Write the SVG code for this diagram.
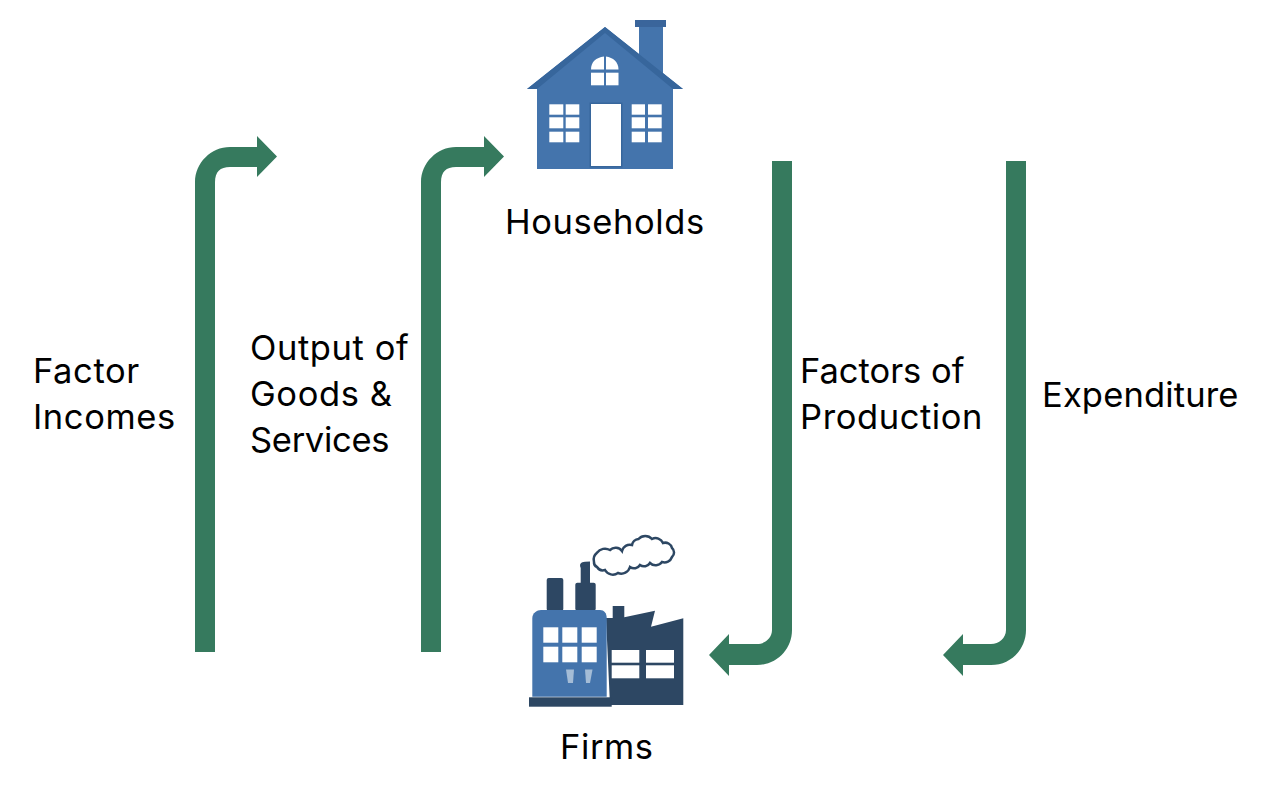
<svg xmlns="http://www.w3.org/2000/svg" width="1264" height="794" viewBox="0 0 1264 794">
<style>
.lbl{font-family:"Inter","Open Sans","Liberation Sans",sans-serif;font-size:34.500px;letter-spacing:.6px;fill:#000}
.arrow{fill:#367a5e}
.blue{fill:#4474ac}
.navy{fill:#2d4763}
.win{fill:#fff}
</style>
<defs>
<path id="up" d="M0 0V-470C0 -489 16 -505 35 -505H62V-516L82 -495.500L62 -475V-485H35C25 -485 20 -480 20 -470V0Z"/>
<path id="up2" d="M0 0V-470C0 -489 16 -505 35 -505H63V-516L83 -495.500L63 -475V-485H35C25 -485 20 -480 20 -470V0Z"/>
<path id="down" d="M0 0V469C0 477 -7 483 -15 483H-43V473L-63 494L-43 515V504H-15C5 504 20 488 20 469V0Z"/>
</defs>
<rect width="1264" height="794" fill="#fff"/>
<g id="connectors" class="arrow">
<use href="#up" x="195" y="652"/>
<use href="#up2" x="421" y="652"/>
<use href="#down" x="772" y="161"/>
<use href="#down" x="1006" y="161"/>
</g>
<g id="households">
<rect x="635" y="20" width="31" height="7" fill="#3a659b"/>
<rect class="blue" x="639" y="27" width="24" height="50"/>
<path class="blue" d="M605 27L683 89H673V169H537V89H527Z"/>
<path d="M605 27L683 89H673L605 33L537 89H527Z" fill="#37669c"/>
<rect x="589.500" y="102.500" width="33" height="65" fill="#37669c"/>
<g class="win">
<rect x="591" y="104" width="30" height="62"/>
<rect x="549.300" y="104.300" width="14" height="10.400"/><rect x="565.700" y="104.300" width="13.600" height="10.400"/>
<rect x="549.300" y="117.300" width="14" height="11"/><rect x="565.700" y="117.300" width="13.600" height="11"/>
<rect x="549.300" y="131.700" width="14" height="10.600"/><rect x="565.700" y="131.700" width="13.600" height="10.600"/>
<rect x="631.700" y="104.300" width="13.300" height="10.400"/><rect x="648" y="104.300" width="13.700" height="10.400"/>
<rect x="631.700" y="117.300" width="13.300" height="11"/><rect x="648" y="117.300" width="13.700" height="11"/>
<rect x="631.700" y="131.700" width="13.300" height="10.600"/><rect x="648" y="131.700" width="13.700" height="10.600"/>
<path d="M591 69.500C591 62 596 57.500 604 56.500V69.500Z"/><path d="M606 56.500C613 57.500 618.500 62 618.500 69.500H606Z"/>
<rect x="591" y="72.700" width="13" height="12.600"/><rect x="606" y="72.700" width="12.500" height="12.600"/>
</g>
<text class="lbl" x="505" y="234">Households</text>
</g>
<g id="firms">
<path class="navy" d="M606 618H612.700V606H624.300V617.300L655 610.700L651 626.700L683.300 618.300V705H610Z"/>
<rect class="navy" x="546.700" y="578" width="16.600" height="33" rx="2"/>
<rect class="navy" x="575.300" y="582.700" width="20.400" height="28" rx="2"/>
<path class="navy" d="M580.700 583V568C579 564 581 562 585 561.800L590 561.500V583Z"/>
<path class="blue" d="M532.300 696.700V618C532.300 613 537 610 541 610H600C604 610 606.700 613 606.700 618V696.700Z"/>
<rect class="navy" x="529" y="697.300" width="82.700" height="9.400"/>
<g class="win">
<rect x="543.300" y="627.300" width="15" height="15.400"/><rect x="562.300" y="627.300" width="15" height="15.400"/><rect x="581.700" y="627.300" width="15" height="15.400"/>
<rect x="543.300" y="646.700" width="15" height="15.600"/><rect x="562.300" y="646.700" width="15" height="15.600"/><rect x="581.700" y="646.700" width="15" height="15.600"/>
<rect x="611.700" y="650" width="27.600" height="12.700"/><rect x="646" y="650" width="28" height="12.700"/>
<rect x="611.700" y="665.300" width="27.600" height="13"/><rect x="646" y="665.300" width="28" height="13"/>
</g>
<path d="M566 669.500H574L573 683H568Z" fill="#a4bcd6"/>
<path d="M585 669.500H592.500L590 683H586Z" fill="#a4bcd6"/>
<path d="M594 562A9 9 0 0 1 597 552.700A10 10 0 0 1 610 550A8 8 0 0 1 622 551A8 8 0 0 1 632 545A7 7 0 0 1 638.500 539A9 9 0 0 1 652 539A8 8 0 0 1 663 543A7 7 0 0 1 672 548A6 6 0 0 1 672 557A8 8 0 0 1 662 562A8 8 0 0 1 650 563A7 7 0 0 1 640 565A7 7 0 0 1 630 567A9 9 0 0 1 618 573A9 9 0 0 1 605 570A7 7 0 0 1 597 567A5 5 0 0 1 594 562Z" fill="#fff" stroke="#2d4763" stroke-width="2.500"/>
<text class="lbl" x="560" y="759">Firms</text>
</g>
<g id="labels">
<text class="lbl" x="33" y="383">Factor</text>
<text class="lbl" x="33" y="429">Incomes</text>
<text class="lbl" x="250" y="360">Output of</text>
<text class="lbl" x="250" y="406">Goods &amp;</text>
<text class="lbl" x="250" y="452" textLength="140">Services</text>
<text class="lbl" x="800" y="383" textLength="165">Factors of</text>
<text class="lbl" x="800" y="429">Production</text>
<text class="lbl" x="1042" y="407" textLength="197">Expenditure</text>
</g>
</svg>
